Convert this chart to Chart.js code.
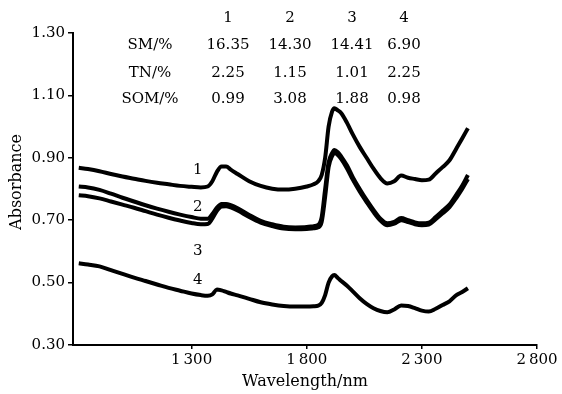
<!DOCTYPE html>
<html>
<head>
<meta charset="utf-8">
<script src="https://cdn.jsdelivr.net/npm/chart.js@4"></script>
<style>
  html, body { margin: 0; padding: 0; background: #fff; }
  #wrap { width: 562px; height: 394px; }
</style>
</head>
<body>
<div id="wrap"><canvas id="chart" width="562" height="394"></canvas></div>
<script>
const wavelengths = [810, 850, 900, 950, 1000, 1050, 1100, 1150, 1200, 1250, 1300, 1340, 1370, 1390, 1410, 1430, 1450, 1470, 1500, 1550, 1600, 1650, 1700, 1750, 1800, 1830, 1850, 1865, 1880, 1895, 1910, 1920, 1935, 1950, 1975, 2000, 2030, 2060, 2090, 2120, 2150, 2180, 2210, 2240, 2270, 2300, 2330, 2360, 2390, 2420, 2450, 2475, 2500];

const sample1 = [0.868, 0.864, 0.857, 0.848, 0.840, 0.833, 0.826, 0.820, 0.815, 0.810, 0.807, 0.805, 0.808, 0.825, 0.855, 0.872, 0.872, 0.862, 0.848, 0.825, 0.810, 0.801, 0.798, 0.801, 0.808, 0.815, 0.825, 0.845, 0.900, 1.000, 1.048, 1.059, 1.052, 1.043, 1.012, 0.975, 0.935, 0.900, 0.865, 0.835, 0.818, 0.825, 0.843, 0.836, 0.832, 0.828, 0.830, 0.850, 0.870, 0.892, 0.930, 0.962, 0.995];
const sample2 = [0.808, 0.805, 0.797, 0.785, 0.772, 0.760, 0.748, 0.737, 0.727, 0.718, 0.710, 0.705, 0.705, 0.720, 0.740, 0.752, 0.752, 0.748, 0.738, 0.717, 0.698, 0.687, 0.679, 0.677, 0.678, 0.681, 0.685, 0.710, 0.800, 0.885, 0.915, 0.925, 0.918, 0.904, 0.875, 0.838, 0.800, 0.765, 0.733, 0.705, 0.690, 0.695, 0.707, 0.700, 0.693, 0.690, 0.692, 0.710, 0.730, 0.750, 0.782, 0.810, 0.845];
const sample3 = [0.780, 0.777, 0.770, 0.760, 0.750, 0.740, 0.729, 0.718, 0.708, 0.699, 0.691, 0.687, 0.688, 0.705, 0.730, 0.744, 0.745, 0.741, 0.731, 0.710, 0.692, 0.681, 0.673, 0.671, 0.672, 0.674, 0.677, 0.695, 0.775, 0.870, 0.905, 0.915, 0.909, 0.896, 0.866, 0.830, 0.792, 0.758, 0.726, 0.699, 0.684, 0.689, 0.700, 0.694, 0.687, 0.684, 0.686, 0.703, 0.722, 0.742, 0.772, 0.800, 0.832];
const sample4 = [0.562, 0.558, 0.552, 0.540, 0.528, 0.516, 0.505, 0.494, 0.483, 0.474, 0.465, 0.460, 0.458, 0.462, 0.478, 0.475, 0.470, 0.465, 0.459, 0.448, 0.437, 0.430, 0.425, 0.423, 0.423, 0.424, 0.426, 0.435, 0.460, 0.500, 0.520, 0.524, 0.515, 0.505, 0.490, 0.472, 0.450, 0.432, 0.418, 0.409, 0.405, 0.414, 0.427, 0.425, 0.418, 0.410, 0.407, 0.416, 0.428, 0.440, 0.460, 0.470, 0.482];

const sampleIds = ['1', '2', '3', '4'];
const smValues = ['16.35', '14.30', '14.41', '6.90'];
const tnValues = ['2.25', '1.15', '1.01', '2.25'];
const somValues = ['0.99', '3.08', '1.88', '0.98'];

const xTicks = [1300, 1800, 2300, 2800];
const yTicks = [0.30, 0.50, 0.70, 0.90, 1.10, 1.30];

// where the curve numbers sit, in data units
const labelWavelength = 1327;
const labelAbsorbance = [0.861, 0.742, 0.601, 0.508];

const FONT = 'DejaVu Serif';

const toPoints = values => values.map((v, i) => ({ x: wavelengths[i], y: v }));

const line = values => ({
    data: toPoints(values),
    borderColor: '#000',
    borderWidth: 4,
    pointRadius: 0,
    fill: false,
    cubicInterpolationMode: 'monotone',
});

const annotations = {
    id: 'annotations',
    afterDraw(chart) {
        const { ctx, scales: { x, y } } = chart;
        ctx.save();
        ctx.fillStyle = '#000';
        ctx.font = `15px "${FONT}"`;
        ctx.textAlign = 'center';
        ctx.textBaseline = 'middle';

        const cols = [228, 290, 352, 404];
        const rows = [18, 45, 73, 99];
        const table = [
            ['', sampleIds],
            ['SM/%', smValues],
            ['TN/%', tnValues],
            ['SOM/%', somValues],
        ];
        table.forEach(([name, values], r) => {
            if (name) ctx.fillText(name, 150, rows[r]);
            values.forEach((v, c) => ctx.fillText(v, cols[c], rows[r]));
        });

        const lx = x.getPixelForValue(labelWavelength);
        sampleIds.forEach((id, i) => {
            ctx.fillText(id, lx, y.getPixelForValue(labelAbsorbance[i]));
        });

        // y title, drawn by hand so it can sit a little above the middle
        ctx.font = `16px "${FONT}"`;
        ctx.translate(17, 182);
        ctx.rotate(-Math.PI / 2);
        ctx.fillText('Absorbance', 0, 0);
        ctx.restore();
    }
};

new Chart(document.getElementById('chart'), {
    type: 'line',
    data: {
        datasets: [line(sample1), line(sample2), line(sample3), line(sample4)],
    },
    options: {
        responsive: false,
        animation: false,
        layout: { padding: { top: 33, right: 25, left: 0, bottom: 0 } },
        plugins: {
            legend: { display: false },
            tooltip: { enabled: false },
        },
        scales: {
            x: {
                type: 'linear',
                min: 785,
                max: 2800,
                afterBuildTicks: s => { s.ticks = xTicks.map(value => ({ value })); },
                afterFit: s => { s.height = 49; },
                ticks: {
                    color: '#000',
                    font: { family: FONT, size: 15 },
                    padding: 2,
                    maxRotation: 0,
                    callback: v => String(v).replace(/(\d)(\d{3})$/, '$1\u2009$2'),
                },
                grid: { drawOnChartArea: false, color: '#000', lineWidth: 1.5, tickLength: 4 },
                border: { color: '#000', width: 2 },
                title: {
                    display: true,
                    text: 'Wavelength/nm',
                    color: '#000',
                    font: { family: FONT, size: 16 },
                    padding: { top: 0, bottom: 3 },
                },
            },
            y: {
                min: 0.3,
                max: 1.3,
                afterBuildTicks: s => { s.ticks = yTicks.map(value => ({ value })); },
                afterFit: s => { s.width = 73; },
                ticks: {
                    color: '#000',
                    font: { family: FONT, size: 15 },
                    padding: 3,
                    callback: v => v.toFixed(2),
                },
                grid: { drawOnChartArea: false, color: '#000', lineWidth: 1.5, tickLength: 5 },
                border: { color: '#000', width: 2 },
            },
        },
    },
    plugins: [annotations],
});
</script>
</body>
</html>
